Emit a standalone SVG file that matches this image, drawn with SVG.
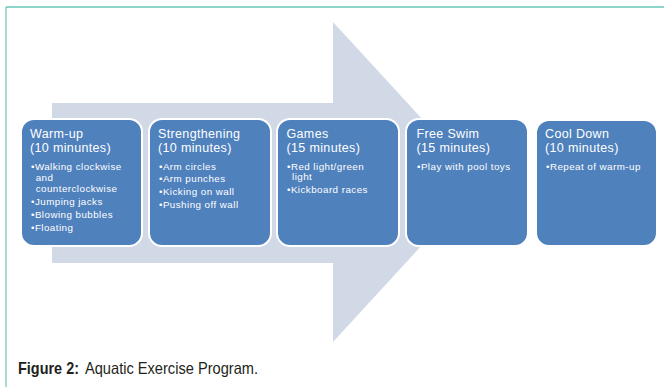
<svg xmlns="http://www.w3.org/2000/svg" width="664" height="387" viewBox="0 0 664 387">
<style>
.box{fill:#4f81bd;stroke:#ffffff;stroke-width:2}
.t{font-family:"Liberation Sans",Arial,sans-serif;font-size:12.5px;fill:#ffffff;letter-spacing:0.35px}
.b{font-family:"Liberation Sans",Arial,sans-serif;font-size:9.8px;fill:#ffffff;letter-spacing:0.45px}
.cap{font-family:"Liberation Sans",Arial,sans-serif;font-size:16.5px;fill:#231f20}
</style>
<rect width="664" height="387" fill="#ffffff"/>
<line x1="6" y1="7" x2="664" y2="7" stroke="#66c5b6" stroke-width="1.5"/>
<line x1="6" y1="7" x2="6" y2="387" stroke="#66c5b6" stroke-width="1.2"/>
<g id="connectors">
<polygon points="52,103 333,103 333,22 480,182 333,342 333,263 52,263" fill="#d1d9e7"/>
</g>
<g id="warmup">
<rect class="box" x="21" y="119" width="121" height="127" rx="13"/>
<text class="t" x="30" y="138">Warm-up</text>
<text class="t" x="30" y="152">(10 minuntes)</text>
<text class="b" x="31" y="170">•Walking clockwise</text>
<text class="b" x="35.7" y="181">and</text>
<text class="b" x="35.7" y="191.5">counterclockwise</text>
<text class="b" x="31" y="204.5">•Jumping jacks</text>
<text class="b" x="31" y="217.5">•Blowing bubbles</text>
<text class="b" x="31" y="230.5">•Floating</text>
</g>
<g id="strengthening">
<rect class="box" x="149" y="119" width="122" height="127" rx="13"/>
<text class="t" x="158" y="138">Strengthening</text>
<text class="t" x="158" y="152">(10 minutes)</text>
<text class="b" x="159" y="169.5">•Arm circles</text>
<text class="b" x="159" y="182">•Arm punches</text>
<text class="b" x="159" y="194.5">•Kicking on wall</text>
<text class="b" x="159" y="208">•Pushing off wall</text>
</g>
<g id="games">
<rect class="box" x="277" y="119" width="122" height="127" rx="13"/>
<text class="t" x="286.5" y="138">Games</text>
<text class="t" x="286.5" y="152">(15 minutes)</text>
<text class="b" x="287" y="169.5">•Red light/green</text>
<text class="b" x="292" y="179.5">light</text>
<text class="b" x="287" y="193">•Kickboard races</text>
</g>
<g id="freeswim">
<rect class="box" x="406" y="119" width="122" height="127" rx="13"/>
<text class="t" x="416.5" y="138">Free Swim</text>
<text class="t" x="416.5" y="152">(15 minutes)</text>
<text class="b" x="417" y="169.5">•Play with pool toys</text>
</g>
<g id="cooldown">
<rect class="box" x="536" y="120" width="121" height="126" rx="13"/>
<text class="t" x="545" y="138">Cool Down</text>
<text class="t" x="545" y="152">(10 minutes)</text>
<text class="b" x="546" y="169.5">•Repeat of warm-up</text>
</g>
<text class="cap" x="18" y="374" font-weight="bold" textLength="61" lengthAdjust="spacingAndGlyphs">Figure 2:</text>
<text class="cap" x="85" y="374" textLength="173" lengthAdjust="spacingAndGlyphs">Aquatic Exercise Program.</text>
</svg>
